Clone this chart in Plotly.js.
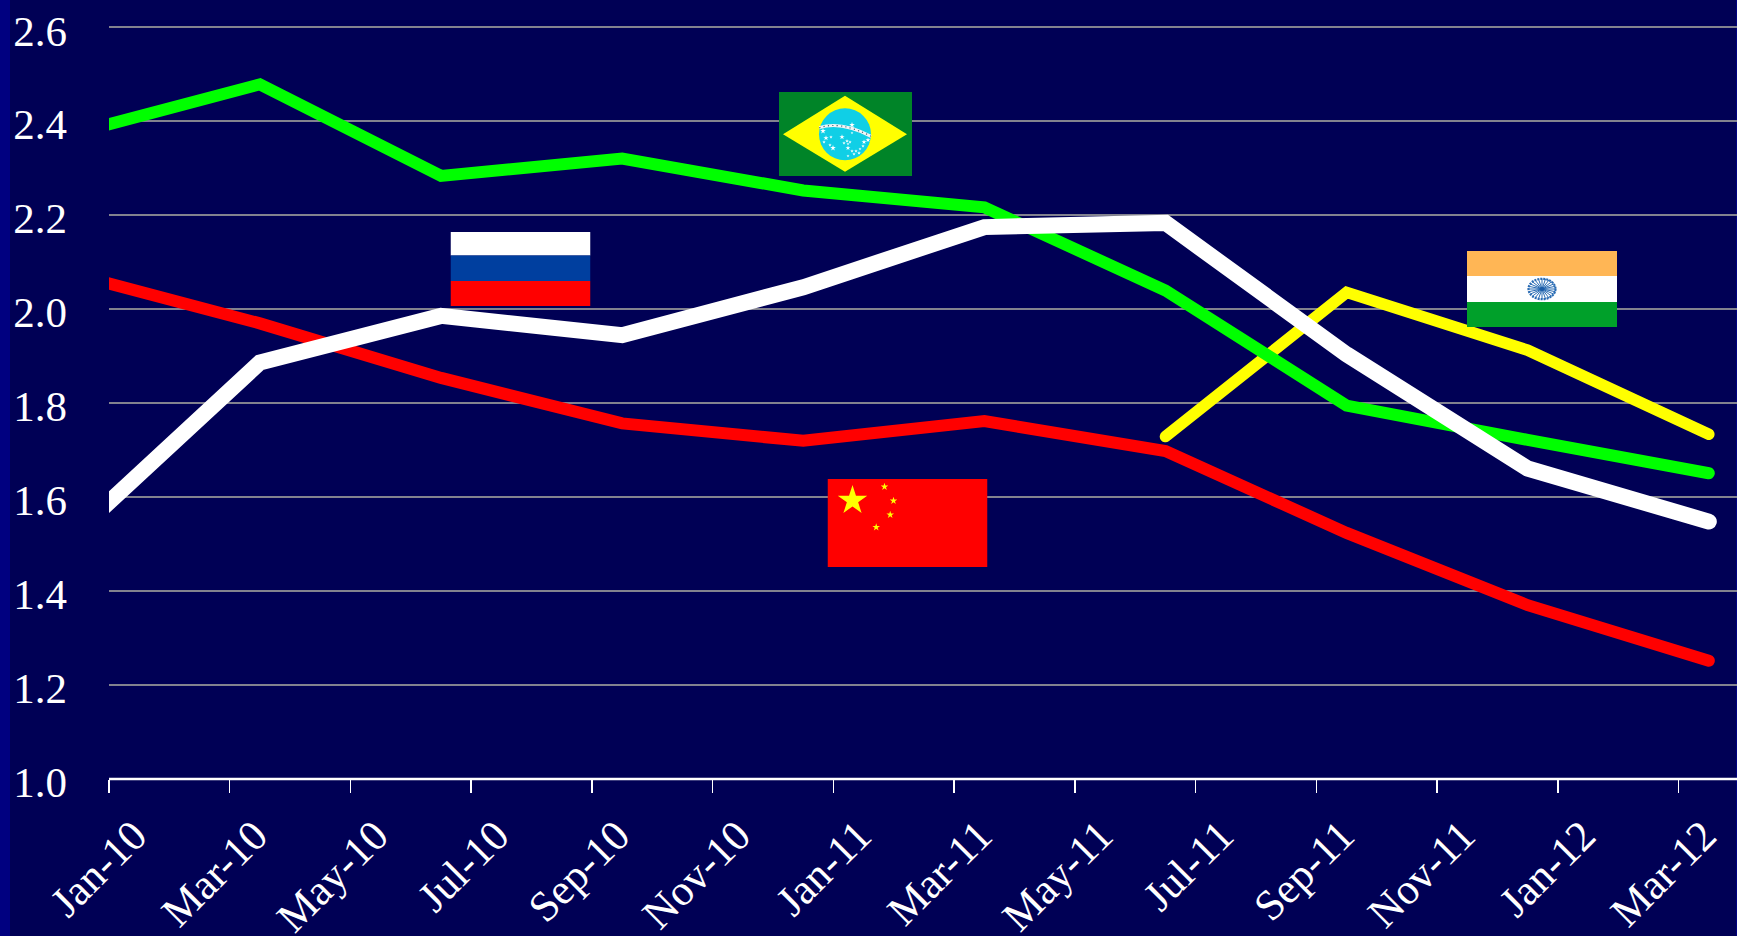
<!DOCTYPE html>
<html>
<head>
<meta charset="utf-8">
<title>BRIC series, 2010-2012</title>
<script src="https://cdn.plot.ly/plotly-3.0.1.min.js"></script>
<style>
  html, body { margin: 0; padding: 0; background: #000055; }
  #chart { width: 1737px; height: 936px; }
  /* rounded line ends and sharp corners on the series */
  .scatterlayer .js-line { stroke-linecap: round !important; stroke-miterlimit: 10 !important; }
</style>
</head>
<body>
<div id="chart"></div>
<script>
// Month offsets from Jan-10 (0); quarterly readings fall mid-month
const monthOffsets = [-0.5, 2.5, 5.5, 8.5, 11.5, 14.5, 17.5, 20.5, 23.5, 26.5];
const indiaMonthOffsets = [17.5, 20.5, 23.5, 26.5];

const brazil = [2.377, 2.479, 2.284, 2.321, 2.253, 2.217, 2.040, 1.795, 1.722, 1.651];
const russia = [1.530, 1.887, 1.986, 1.945, 2.047, 2.175, 2.184, 1.904, 1.661, 1.548];
const china  = [2.072, 1.970, 1.854, 1.757, 1.720, 1.762, 1.698, 1.524, 1.370, 1.252];
const india  = [1.729, 2.036, 1.913, 1.734];

const tickMonths = [0, 2, 4, 6, 8, 10, 12, 14, 16, 18, 20, 22, 24, 26];
const tickLabels = ['Jan-10','Mar-10','May-10','Jul-10','Sep-10','Nov-10','Jan-11','Mar-11','May-11','Jul-11','Sep-11','Nov-11','Jan-12','Mar-12'];

const W = 1737, H = 936;
const plot = { l: 109, r: 0, t: 0, b: 157 };
const plotW = W - plot.l - plot.r, plotH = H - plot.t - plot.b;
const monthWidth = 60.37, unitHeight = 469.7;
const fontFamily = '"Liberation Serif", serif';

// Five-pointed star as an SVG path
function star(cx, cy, R, fill) {
  let d = '';
  for (let i = 0; i < 10; i++) {
    const r = i % 2 ? R * 0.382 : R;
    const a = -Math.PI / 2 + i * Math.PI / 5;
    d += (i ? 'L' : 'M') + (cx + r * Math.cos(a)).toFixed(2) + ' ' + (cy + r * Math.sin(a)).toFixed(2);
  }
  return `<path d="${d}Z" fill="${fill}"/>`;
}

function svgUri(w, h, body) {
  const s = `<svg xmlns="http://www.w3.org/2000/svg" width="${w}" height="${h}" viewBox="0 0 ${w} ${h}">${body}</svg>`;
  return 'data:image/svg+xml;charset=utf-8,' + encodeURIComponent(s);
}

function brazilFlag() {
  const stars = [[73,33,3],[44,39,3],[47,46,2.8],[52,45,1.8],[45,50,1.8],[51,53,1.8],[54,56,3],[63,45,2.8],[68,49,2],[65,51,1.8],[71,50,1.8],[69,52,1.6],[69,56,2.6],[85,50,2.6],[89,48,2.6],[84,54,1.8],[81,57,1.6],[73,59,1.8],[77,59,1.8],[80,61,2],[75,62,1.8],[69,64,1.6],[73,41,1.4]]
    .map(s => star(s[0], s[1], s[2], '#ffffff')).join('');
  const band = 'M40.3 35.7 Q61.8 28.6 92 44.3';
  return svgUri(133, 84,
    '<rect width="133" height="84" fill="#008428"/>' +
    '<polygon points="4,42.3 66,3.7 128,42.3 66,79.7" fill="#ffff00"/>' +
    '<circle cx="66" cy="42.3" r="26" fill="#10cfe6"/>' +
    stars +
    `<path d="${band}" fill="none" stroke="#f4f4f4" stroke-width="3"/>` +
    `<path d="${band}" fill="none" stroke="#3a6678" stroke-width="1.2" stroke-dasharray="1.2 3.2"/>`);
}

function russiaFlag() {
  return svgUri(140, 74,
    '<rect width="140" height="23.5" fill="#ffffff"/>' +
    '<rect y="23.5" width="140" height="25.5" fill="#003f9f"/>' +
    '<rect y="49" width="140" height="25" fill="#ff0000"/>');
}

function chinaFlag() {
  return svgUri(160, 88,
    '<rect width="160" height="88" fill="#ff0000"/>' +
    star(25, 21.5, 15.5, '#ffff00') +
    star(57, 7.7, 4, '#ffff00') +
    star(66, 21.7, 4, '#ffff00') +
    star(62.7, 35.7, 4, '#ffff00') +
    star(48.7, 48.3, 4, '#ffff00'));
}

function indiaFlag() {
  let spokes = '';
  for (let i = 0; i < 24; i++) {
    const a = i * Math.PI / 12;
    spokes += `<line x1="75" y1="38" x2="${(75 + 14 * Math.cos(a)).toFixed(2)}" y2="${(38 + 10.5 * Math.sin(a)).toFixed(2)}" stroke="#2a6cb4" stroke-width="1"/>`;
  }
  return svgUri(150, 76,
    '<rect width="150" height="25" fill="#ffb655"/>' +
    '<rect y="25" width="150" height="26" fill="#ffffff"/>' +
    '<rect y="51" width="150" height="25" fill="#00a02a"/>' +
    spokes +
    '<ellipse cx="75" cy="38" rx="13.5" ry="10.2" fill="none" stroke="#2a6cb4" stroke-width="2.2" stroke-dasharray="2 1"/>' +
    '<ellipse cx="75" cy="38" rx="2.4" ry="2" fill="#1a5aa6"/>');
}

// Places a flag using page pixel coordinates
function flagImage(source, x0, y0, x1, y1) {
  return {
    source, xref: 'paper', yref: 'paper',
    x: (x0 - plot.l) / plotW,
    y: (plotH + plot.t - y0) / plotH,
    sizex: (x1 - x0) / plotW,
    sizey: (y1 - y0) / plotH,
    xanchor: 'left', yanchor: 'top',
    sizing: 'stretch', layer: 'above'
  };
}

// Page-edge band drawn in page pixel coordinates
function edgeBand(x0, x1) {
  return {
    type: 'rect', xref: 'paper', yref: 'paper', layer: 'below',
    x0: (x0 - plot.l) / plotW, x1: (x1 - plot.l) / plotW,
    y0: -plot.b / plotH, y1: 1,
    fillcolor: '#000080', line: { width: 0 }
  };
}

function series(x, y, color, width) {
  return { type: 'scatter', mode: 'lines', x, y, line: { color, width, shape: 'linear' }, hoverinfo: 'skip', showlegend: false };
}

const traces = [
  series(indiaMonthOffsets, india, '#ffff00', 11.5),
  series(monthOffsets, china, '#ff0000', 12),
  series(monthOffsets, brazil, '#00ff00', 12),
  series(monthOffsets, russia, '#ffffff', 16)
];

const layout = {
  width: W, height: H, autosize: false,
  paper_bgcolor: '#000055', plot_bgcolor: '#000055',
  margin: { l: plot.l, r: plot.r, t: plot.t, b: plot.b, pad: 0 },
  showlegend: false,
  hovermode: false,
  xaxis: {
    range: [0, plotW / monthWidth],
    tickmode: 'array', tickvals: tickMonths, ticktext: tickLabels,
    tickangle: -45,
    tickfont: { family: fontFamily, size: 43, color: '#ffffff' },
    ticks: 'outside', ticklen: 13, tickwidth: 1.5, tickcolor: '#ffffff',
    ticklabelstandoff: 0,
    ticklabelshift: 25,
    showline: false,
    showgrid: false, zeroline: false, fixedrange: true
  },
  yaxis: {
    range: [1, 1 + plotH / unitHeight],
    tickmode: 'linear', tick0: 1, dtick: 0.2,
    tickformat: '.1f',
    tickfont: { family: fontFamily, size: 43, color: '#ffffff' },
    ticks: '', ticklabelstandoff: 41, ticklabelshift: 3,
    showline: false,
    showgrid: true, gridcolor: '#82828f', gridwidth: 2,
    zeroline: false, fixedrange: true
  },
  shapes: [
    edgeBand(0, 10), edgeBand(1736, 1737),
    // Baseline along y = 1.0
    { type: 'line', xref: 'paper', yref: 'paper', x0: 0, x1: 1, y0: 0, y1: 0, layer: 'above', line: { color: '#ffffff', width: 2.5 } }
  ],
  images: [
    flagImage(brazilFlag(), 779, 92, 912, 176),
    flagImage(russiaFlag(), 450.5, 232, 590.5, 306),
    flagImage(chinaFlag(), 827.5, 479, 987.5, 567),
    flagImage(indiaFlag(), 1467, 251, 1617, 327)
  ]
};

Plotly.newPlot('chart', traces, layout, { displayModeBar: false, staticPlot: true });
</script>
</body>
</html>
